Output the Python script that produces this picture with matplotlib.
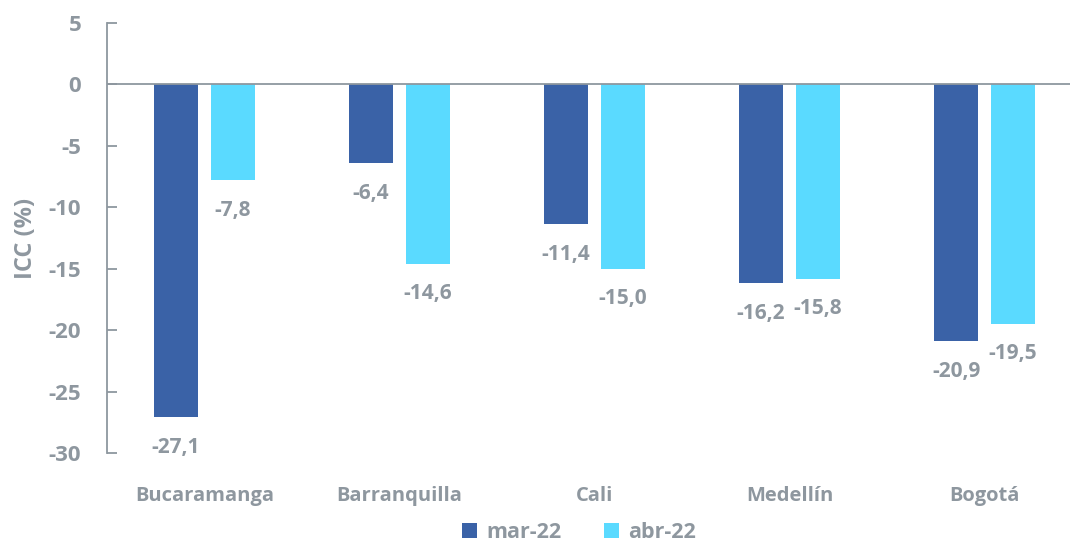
import numpy as np
import matplotlib
matplotlib.use("Agg")
import matplotlib.pyplot as plt

plt.rcParams["font.family"] = ["Open Sans", "DejaVu Sans"]
plt.rcParams["font.weight"] = "bold"
plt.rcParams["axes.unicode_minus"] = False

ciudades = ["Bucaramanga", "Barranquilla", "Cali", "Medellín", "Bogotá"]
mar22 = [-27.1, -6.4, -11.4, -16.2, -20.9]
abr22 = [-7.8, -14.6, -15.0, -15.8, -19.5]
series = ["mar-22", "abr-22"]

GRAY = "#8e979f"
DARK = "#3a62a7"
LIGHT = "#5adaff"

fig = plt.figure(figsize=(10.7, 5.44), dpi=100)
ax = fig.add_axes([0.1, 0.1673, 0.9, 0.7904])

x = np.arange(len(ciudades))
w = 0.226; off = 0.146
b1 = ax.bar(x - off, mar22, w, color=DARK, label=series[0])
b2 = ax.bar(x + off, abr22, w, color=LIGHT, label=series[1])

for bars, vals in ((b1, mar22), (b2, abr22)):
    for r, v in zip(bars, vals):
        ax.annotate(f"{v:.1f}".replace(".", ","), (r.get_x() + r.get_width() / 2, v),
                    xytext=(0, -30), textcoords="offset pixels", ha="center", va="center",
                    fontsize=15, fontweight="bold", color=GRAY)

ax.set_ylim(-30, 5)
ax.set_xlim(-0.5, 4.438)
ax.set_yticks(np.arange(-30, 6, 5))
ax.set_xticks(x)
ax.set_xticklabels(ciudades)
ax.axhline(0, color=GRAY, lw=1.3)
for s in ("top", "right", "bottom"):
    ax.spines[s].set_visible(False)
ax.spines["left"].set_color(GRAY)
ax.spines["left"].set_linewidth(1.3)
ax.tick_params(axis="y", direction="in", length=7, width=1.3, color=GRAY,
               labelcolor=GRAY, labelsize=16, pad=18.5)
ax.tick_params(axis="x", length=0, labelcolor=GRAY, labelsize=14.5, pad=24)
ax.set_ylabel("ICC (%)", color=GRAY, fontsize=17, fontweight="bold", labelpad=8)

leg = ax.legend(loc="upper center", bbox_to_anchor=(0.49, -0.115), ncol=2, frameon=False,
                handlelength=0.7, handleheight=0.7, columnspacing=2.0, handletextpad=0.4,
                prop={"size": 15.5, "weight": "bold"})
for t in leg.get_texts():
    t.set_color(GRAY)

fig.savefig("out.png", dpi=100)
